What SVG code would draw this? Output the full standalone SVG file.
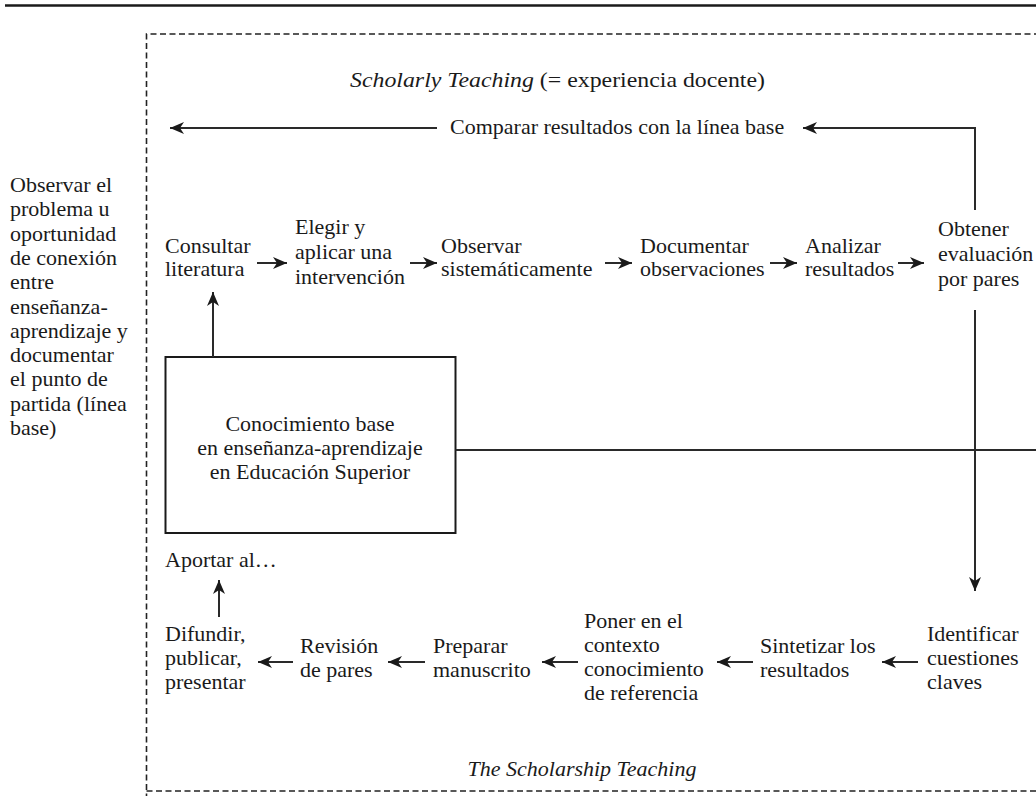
<svg xmlns="http://www.w3.org/2000/svg" width="1036" height="796" viewBox="0 0 1036 796">
<defs>
<style>
text{font-family:"Liberation Serif","Times New Roman",serif;font-size:22px;fill:#1a1a1a}
.it{font-style:italic}
.ln{fill:none;stroke:#2a2a2a;stroke-width:2}
.arr{fill:none;stroke:#2a2a2a;stroke-width:2;marker-end:url(#ah)}
.frame{fill:none;stroke:#222;stroke-width:1.6;stroke-dasharray:6 3.5}
</style>
<marker id="ah" markerUnits="userSpaceOnUse" markerWidth="16" markerHeight="12" refX="14" refY="6" orient="auto">
<path d="M0,0 L14,6 L0,12 L4,6 z" fill="#1a1a1a"/>
</marker>
</defs>
<rect width="1036" height="796" fill="#fff"/>
<line x1="5" y1="5.5" x2="1036" y2="5.5" stroke="#1a1a1a" stroke-width="2.5"/>
<path class="frame" d="M1040,34 H146.5 V800"/>
<path class="frame" d="M146.5,791 H1040"/>

<g id="title"><text x="350" y="87" textLength="415" lengthAdjust="spacingAndGlyphs"><tspan class="it">Scholarly Teaching</tspan> (= experiencia docente)</text></g>
<g id="comparar"><text x="450" y="134">Comparar resultados con la línea base</text></g>
<g id="observar-problema">
<text x="10" y="192">Observar el</text>
<text x="10" y="216.3">problema u</text>
<text x="10" y="240.6">oportunidad</text>
<text x="10" y="264.9">de conexión</text>
<text x="10" y="289.2">entre</text>
<text x="10" y="313.5">enseñanza-</text>
<text x="10" y="337.8">aprendizaje y</text>
<text x="10" y="362.1">documentar</text>
<text x="10" y="386.4">el punto de</text>
<text x="10" y="410.7">partida (línea</text>
<text x="10" y="435">base)</text>
</g>
<g id="consultar"><text x="165" y="253">Consultar</text><text x="165" y="276">literatura</text></g>
<g id="elegir"><text x="295" y="234">Elegir y</text><text x="295" y="259">aplicar una</text><text x="295" y="284">intervención</text></g>
<g id="observar"><text x="441" y="253">Observar</text><text x="441" y="276">sistemáticamente</text></g>
<g id="documentar"><text x="640" y="253">Documentar</text><text x="640" y="276">observaciones</text></g>
<g id="analizar"><text x="805" y="253">Analizar</text><text x="805" y="276">resultados</text></g>
<g id="obtener"><text x="938" y="236">Obtener</text><text x="938" y="261">evaluación</text><text x="938" y="286">por pares</text></g>
<g id="conocimiento">
<rect x="165.5" y="357" width="290" height="176" fill="none" stroke="#1a1a1a" stroke-width="2"/>
<text x="310" y="431" text-anchor="middle">Conocimiento base</text>
<text x="310" y="455" text-anchor="middle">en enseñanza-aprendizaje</text>
<text x="310" y="479" text-anchor="middle">en Educación Superior</text>
</g>
<g id="aportar"><text x="165" y="567">Aportar al…</text></g>
<g id="difundir"><text x="165" y="641">Difundir,</text><text x="165" y="665">publicar,</text><text x="165" y="689">presentar</text></g>
<g id="revision"><text x="300" y="653">Revisión</text><text x="300" y="677">de pares</text></g>
<g id="preparar"><text x="433" y="653">Preparar</text><text x="433" y="677">manuscrito</text></g>
<g id="poner"><text x="584" y="628">Poner en el</text><text x="584" y="652">contexto</text><text x="584" y="676">conocimiento</text><text x="584" y="700">de referencia</text></g>
<g id="sintetizar"><text x="760" y="653">Sintetizar los</text><text x="760" y="677">resultados</text></g>
<g id="identificar"><text x="927" y="641">Identificar</text><text x="927" y="665">cuestiones</text><text x="927" y="689">claves</text></g>
<g id="scholarship"><text class="it" x="582" y="776" text-anchor="middle">The Scholarship Teaching</text></g>

<g id="connectors">
<path class="arr" d="M437,128 H170"/>
<path class="arr" d="M975,210 V128 H803"/>
<path class="arr" d="M257,263 H287"/>
<path class="arr" d="M410,263 H437"/>
<path class="arr" d="M605,263 H632"/>
<path class="arr" d="M770,263 H797"/>
<path class="arr" d="M898,263 H924"/>
<path class="arr" d="M213,357 V292"/>
<path class="arr" d="M975,310 V591"/>
<path class="ln" d="M455.5,450 H1036"/>
<path class="arr" d="M219,617 V580"/>
<path class="arr" d="M293,662 H258"/>
<path class="arr" d="M425,662 H388"/>
<path class="arr" d="M578,662 H542"/>
<path class="arr" d="M753,662 H717"/>
<path class="arr" d="M918,662 H882"/>
</g>
</svg>
